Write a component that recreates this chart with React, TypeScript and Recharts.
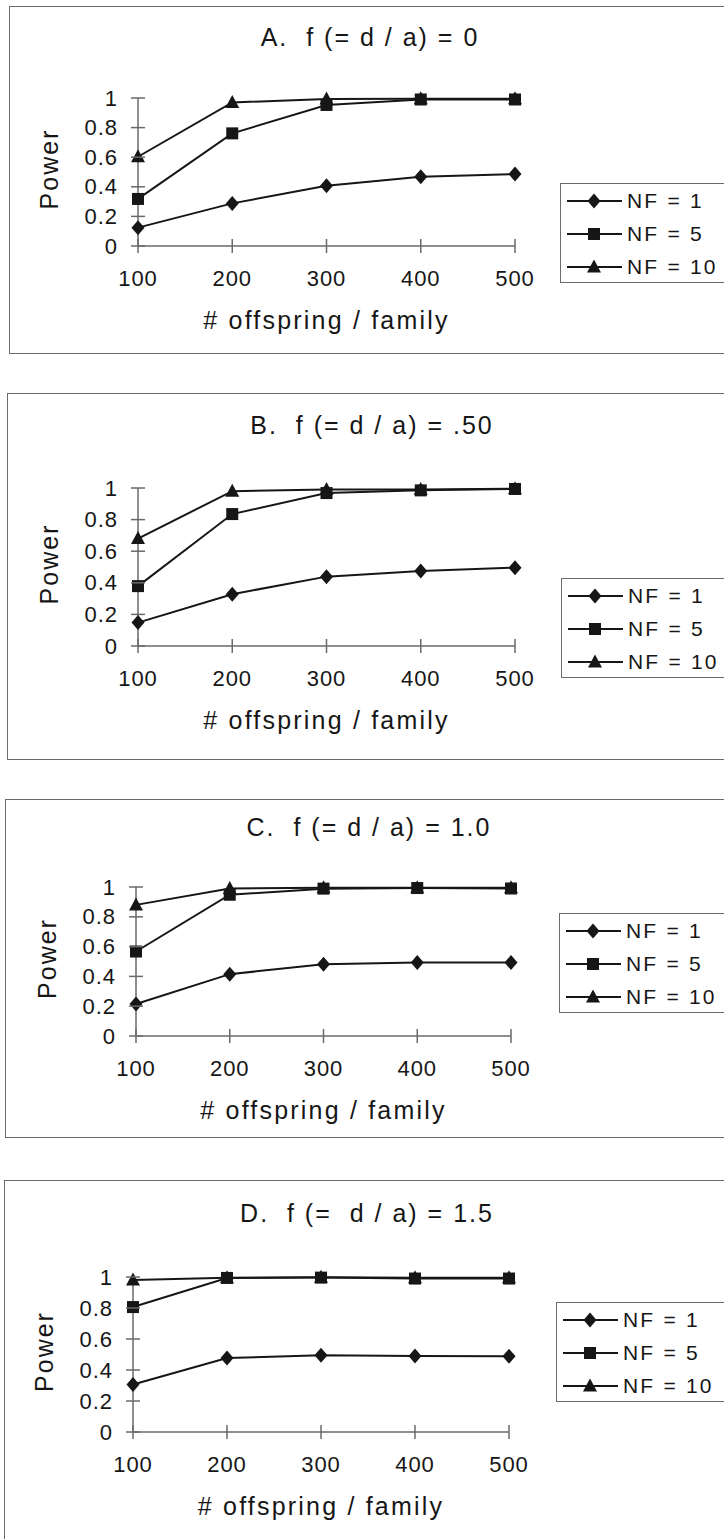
import React from "react";
import { LineChart, Line, XAxis, YAxis, Legend, Label } from "recharts";

// x categories (offspring per family) and y ticks shared by all four panels
const OFFSPRING = [100, 200, 300, 400, 500];
const Y_TICKS = [0, 0.2, 0.4, 0.6, 0.8, 1];
const SERIES_NAMES = ["NF = 1", "NF = 5", "NF = 10"];

// A. f = 0
const A_NF1 = [0.124, 0.288, 0.407, 0.468, 0.486];
const A_NF5 = [0.318, 0.761, 0.953, 0.99, 0.99];
const A_NF10 = [0.603, 0.97, 0.993, 0.995, 0.995];

// B. f = .50
const B_NF1 = [0.148, 0.328, 0.439, 0.475, 0.496];
const B_NF5 = [0.379, 0.835, 0.968, 0.985, 0.994];
const B_NF10 = [0.68, 0.98, 0.99, 0.99, 0.995];

// C. f = 1.0
const C_NF1 = [0.215, 0.415, 0.482, 0.493, 0.493];
const C_NF5 = [0.567, 0.948, 0.989, 0.993, 0.99];
const C_NF10 = [0.88, 0.99, 0.995, 0.995, 0.995];

// D. f = 1.5
const D_NF1 = [0.307, 0.477, 0.495, 0.49, 0.488];
const D_NF5 = [0.806, 0.994, 0.996, 0.99, 0.99];
const D_NF10 = [0.98, 0.995, 0.998, 0.995, 0.995];

const PANEL_TITLES = [
  "A.  f (= d / a) = 0",
  "B.  f (= d / a) = .50",
  "C.  f (= d / a) = 1.0",
  "D.  f (=  d / a) = 1.5",
];
const PANEL_SERIES = [
  [A_NF1, A_NF5, A_NF10],
  [B_NF1, B_NF5, B_NF10],
  [C_NF1, C_NF5, C_NF10],
  [D_NF1, D_NF5, D_NF10],
];

const X_TITLE = "# offspring / family";
const Y_TITLE = "Power";

// page geometry of each scanned panel (box, plot area, title, legend)
const LAYOUT = [
  { boxTop: 6, boxBottom: 354, boxLeft: 9, plotLeft: 138, plotRight: 515, plotTop: 98, plotBottom: 246, titleX: 370, titleY: 37, legendX: 560, legendY: 183 },
  { boxTop: 393, boxBottom: 760, boxLeft: 7, plotLeft: 138, plotRight: 515, plotTop: 488, plotBottom: 646, titleX: 372, titleY: 425, legendX: 561, legendY: 578 },
  { boxTop: 799, boxBottom: 1138, boxLeft: 5, plotLeft: 136, plotRight: 511, plotTop: 887, plotBottom: 1036, titleX: 369, titleY: 827, legendX: 559, legendY: 913 },
  { boxTop: 1180, boxBottom: 1570, boxLeft: 4, plotLeft: 133, plotRight: 509, plotTop: 1277, plotBottom: 1432, titleX: 367, titleY: 1213, legendX: 556, legendY: 1302 },
];

const PAGE_W = 724;
const PAGE_H = 1539;
const Y_AXIS_W = 100;
const X_AXIS_H = 90;
const INK = "#161616";
const AXIS = "#6a6a6a";
const FONT = "'Liberation Sans', Arial, Helvetica, sans-serif";

const KEYS = ["nf1", "nf5", "nf10"];
const SHAPES: Record<string, string> = {
  "NF = 1": "diamond",
  "NF = 5": "square",
  "NF = 10": "triangle",
};

function Marker({ shape, cx, cy }: { shape: string; cx: number; cy: number }) {
  if (shape === "diamond") {
    return <path d={`M${cx},${cy - 7.5}L${cx + 6.5},${cy}L${cx},${cy + 7.5}L${cx - 6.5},${cy}Z`} fill={INK} />;
  }
  if (shape === "square") {
    return <rect x={cx - 6} y={cy - 6} width={12} height={12} fill={INK} />;
  }
  return <path d={`M${cx},${cy - 7.5}L${cx + 7},${cy + 5.5}L${cx - 7},${cy + 5.5}Z`} fill={INK} />;
}

// eslint-disable-next-line @typescript-eslint/no-explicit-any
function XTick({ x, y, payload }: any) {
  return (
    <g>
      <line x1={x} x2={x} y1={y - 7} y2={y + 7} stroke={AXIS} strokeWidth={1.5} />
      <text x={x} y={y + 32} textAnchor="middle" dominantBaseline="central" fontSize={22} letterSpacing={1} fill={INK}>
        {payload.value}
      </text>
    </g>
  );
}

// eslint-disable-next-line @typescript-eslint/no-explicit-any
function YTick({ x, y, payload }: any) {
  return (
    <g>
      <line x1={x - 7} x2={x + 7} y1={y} y2={y} stroke={AXIS} strokeWidth={1.5} />
      <text x={x - 20} y={y} textAnchor="end" dominantBaseline="central" fontSize={22} letterSpacing={1} fill={INK}>
        {String(payload.value)}
      </text>
    </g>
  );
}

// eslint-disable-next-line @typescript-eslint/no-explicit-any
function NFLegend({ payload }: any) {
  const items = [...(payload ?? [])].sort(
    (a, b) => SERIES_NAMES.indexOf(a.value) - SERIES_NAMES.indexOf(b.value)
  );
  return (
    <div
      style={{
        boxSizing: "border-box",
        width: 220,
        height: 100,
        border: `1.5px solid ${AXIS}`,
        background: "#fff",
        paddingTop: 0.5,
      }}
    >
      {items.map((it) => (
        <div key={it.value} style={{ display: "flex", alignItems: "center", height: 33 }}>
          <svg width={64} height={20} style={{ display: "block" }}>
            <line x1={6} x2={61} y1={10} y2={10} stroke={INK} strokeWidth={2} />
            <Marker shape={SHAPES[it.value]} cx={33} cy={10} />
          </svg>
          <span style={{ marginLeft: 2, fontSize: 21, letterSpacing: 2.2, color: INK, lineHeight: "24px" }}>
            {it.value}
          </span>
        </div>
      ))}
    </div>
  );
}

function Panel({ index }: { index: number }) {
  const L = LAYOUT[index];
  const series = PANEL_SERIES[index];
  const data = OFFSPRING.map((n, i) => ({
    n,
    nf1: series[0][i],
    nf5: series[1][i],
    nf10: series[2][i],
  }));
  const chartH = L.boxBottom - L.boxTop;
  const margin = {
    top: L.plotTop - L.boxTop,
    left: L.plotLeft - Y_AXIS_W,
    right: PAGE_W - L.plotRight,
    bottom: chartH - (L.plotBottom - L.boxTop) - X_AXIS_H,
  };

  return (
    <>
      <div
        style={{
          position: "absolute",
          left: L.boxLeft,
          top: L.boxTop,
          width: 800,
          height: chartH,
          boxSizing: "border-box",
          border: `1.5px solid ${AXIS}`,
        }}
      />
      <div
        style={{
          position: "absolute",
          left: L.titleX - 250,
          top: L.titleY - 15,
          width: 500,
          textAlign: "center",
          fontSize: 25,
          lineHeight: "30px",
          letterSpacing: 2,
          whiteSpace: "pre",
          color: INK,
        }}
      >
        {PANEL_TITLES[index]}
      </div>
      <div style={{ position: "absolute", left: 0, top: L.boxTop }}>
        <LineChart width={PAGE_W} height={chartH} data={data} margin={margin}>
          <XAxis
            type="number"
            dataKey="n"
            domain={[100, 500]}
            ticks={OFFSPRING}
            tickSize={0}
            tickMargin={0}
            tickLine={false}
            axisLine={{ stroke: AXIS, strokeWidth: 1.5 }}
            tick={<XTick />}
            height={X_AXIS_H}
          >
            <Label
              content={({ viewBox }: any) => (
                <text
                  x={viewBox.x + viewBox.width / 2}
                  y={viewBox.y + 74}
                  textAnchor="middle"
                  dominantBaseline="central"
                  fontSize={25}
                  letterSpacing={2.2}
                  fill={INK}
                >
                  {X_TITLE}
                </text>
              )}
            />
          </XAxis>
          <YAxis
            type="number"
            domain={[0, 1]}
            ticks={Y_TICKS}
            tickSize={0}
            tickMargin={0}
            tickLine={false}
            axisLine={{ stroke: AXIS, strokeWidth: 1.5 }}
            tick={<YTick />}
            width={Y_AXIS_W}
          >
            <Label
              content={({ viewBox }: any) => {
                const x = viewBox.x + viewBox.width - 89;
                const y = viewBox.y + viewBox.height / 2 - 3;
                return (
                  <text
                    x={x}
                    y={y}
                    transform={`rotate(-90 ${x} ${y})`}
                    textAnchor="middle"
                    dominantBaseline="central"
                    fontSize={25}
                    letterSpacing={2}
                    fill={INK}
                  >
                    {Y_TITLE}
                  </text>
                );
              }}
            />
          </YAxis>
          <Legend
            layout="vertical"
            align="center"
            verticalAlign="middle"
            wrapperStyle={{ left: L.legendX, top: L.legendY - L.boxTop, width: 220, height: 100 }}
            content={<NFLegend />}
          />
          {[2, 1, 0].map((s) => (
            <Line
              key={KEYS[s]}
              type="linear"
              dataKey={KEYS[s]}
              name={SERIES_NAMES[s]}
              stroke={INK}
              strokeWidth={2}
              isAnimationActive={false}
              activeDot={false}
              // eslint-disable-next-line @typescript-eslint/no-explicit-any
              dot={(p: any) => (
                <Marker key={`${KEYS[s]}-${p.index}`} shape={SHAPES[SERIES_NAMES[s]]} cx={p.cx} cy={p.cy} />
              )}
            />
          ))}
        </LineChart>
      </div>
    </>
  );
}

export default function App() {
  return (
    <div
      style={{
        position: "absolute",
        left: 0,
        top: 0,
        width: PAGE_W,
        height: PAGE_H,
        overflow: "hidden",
        background: "#fff",
        fontFamily: FONT,
      }}
    >
      {PANEL_TITLES.map((_, i) => (
        <Panel key={i} index={i} />
      ))}
    </div>
  );
}
